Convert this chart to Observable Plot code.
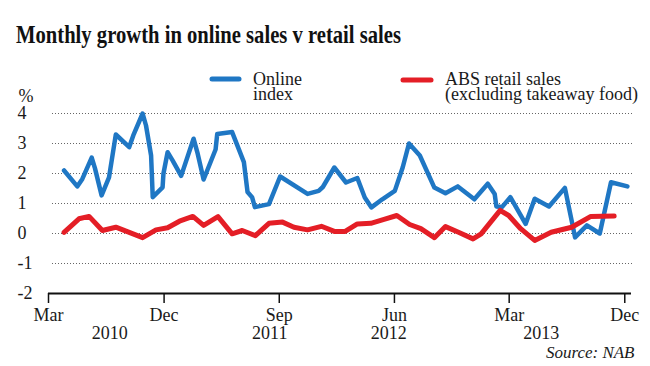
<!DOCTYPE html>
<html>
<head>
<meta charset="utf-8">
<script src="https://cdn.jsdelivr.net/npm/d3@7"></script>
<script src="https://cdn.jsdelivr.net/npm/@observablehq/plot@0.6"></script>
<style>
  html, body { margin: 0; padding: 0; background: #fff; }
  #wrap { position: relative; width: 650px; height: 366px; overflow: hidden; background: #fff; }
  #wrap svg { position: absolute; left: 0; top: 0; }
  #overlay { pointer-events: none; }
</style>
</head>
<body>
<div id="wrap"></div>
<script>
// ---- Data (time = months since 1 March 2010) ----
const onlineMonths = [1.20, 2.24, 2.63, 3.36, 3.62, 4.14, 4.71, 5.23, 6.27, 6.59, 7.32, 7.58, 7.97, 8.10,
  8.88, 8.95, 9.27, 9.66, 10.31, 11.29, 11.64, 12.13, 13.05, 13.18, 14.35, 15.26, 15.55, 15.91, 16.13,
  17.21, 18.07, 20.21, 21.09, 21.41, 22.29, 23.20, 24.12, 24.69, 25.21, 26.07, 27.03, 27.66, 28.15,
  28.98, 30.10, 30.98, 31.93, 33.23, 34.26, 34.79, 34.92, 35.39, 36.09, 37.27, 37.99, 39.09, 40.34,
  40.91, 41.12, 42.03, 43.05, 43.91, 45.20];
const onlineValues = [2.1, 1.57, 1.82, 2.53, 2.17, 1.27, 1.87, 3.3, 2.88, 3.27, 4.0, 3.6, 2.6, 1.21,
  1.54, 2.0, 2.71, 2.43, 1.92, 3.16, 2.66, 1.8, 2.8, 3.32, 3.38, 2.38, 1.38, 1.21, 0.88,
  0.98, 1.9, 1.32, 1.42, 1.55, 2.2, 1.7, 1.85, 1.2, 0.87, 1.14, 1.42, 2.21, 3.0,
  2.6, 1.53, 1.34, 1.57, 1.14, 1.66, 1.32, 0.9, 0.88, 1.21, 0.32, 1.16, 0.9, 1.52,
  0.32, -0.13, 0.27, 0.0, 1.71, 1.57];

const retailMonths = [1.20, 2.37, 3.15, 4.20, 5.23, 7.32, 8.36, 9.27, 10.18, 11.23, 12.13, 13.24, 14.35,
  15.13, 16.17, 17.21, 18.26, 19.16, 20.21, 21.30, 22.29, 23.13, 24.12, 25.16, 26.20, 27.19, 28.20,
  29.06, 30.10, 30.98, 31.98, 33.13, 33.75, 35.23, 35.96, 36.88, 37.99, 39.26, 40.86, 42.34, 44.16];
const retailValues = [0.04, 0.49, 0.57, 0.1, 0.21, -0.14, 0.12, 0.19, 0.41, 0.57, 0.27, 0.56, -0.01,
  0.1, -0.07, 0.34, 0.38, 0.21, 0.12, 0.24, 0.07, 0.07, 0.32, 0.34, 0.47, 0.6, 0.3,
  0.16, -0.14, 0.23, 0.04, -0.18, -0.01, 0.77, 0.6, 0.16, -0.23, 0.04, 0.21, 0.57, 0.58];

const yTicks = [4, 3, 2, 1, 0, -1, -2];
const gridValues = [4, 3, 2, 1, 0, -1];
const xTickMonths = ["2010-03", "2010-12", "2011-09", "2012-06", "2013-03", "2013-12"];
const yearLabels = ["2010", "2011", "2012", "2013"];
const yearLabelMonths = [4.77, 17.27, 26.56, 38.5];

const seriesNames = ["Online index", "ABS retail sales (excluding takeaway food)"];
const title = "Monthly growth in online sales v retail sales";
const source = "Source: NAB";

const BLUE = "#1f77c4";
const RED = "#e41e26";

// ---- helpers ----
const base = new Date(2010, 2, 1);
function monthDate(m) {
  const f = Math.floor(m);
  const a = d3.timeMonth.offset(base, f);
  const b = d3.timeMonth.offset(a, 1);
  return new Date(+a + (m - f) * (b - a));
}
const parseYM = d3.timeParse("%Y-%m");

const online = onlineMonths.map((m, i) => ({date: monthDate(m), value: onlineValues[i], series: seriesNames[0]}));
const retail = retailMonths.map((m, i) => ({date: monthDate(m), value: retailValues[i], series: seriesNames[1]}));
const years = yearLabels.map((t, i) => ({date: monthDate(yearLabelMonths[i]), text: t}));

const FONT = "'Liberation Serif', 'DejaVu Serif', serif";

const chart = Plot.plot({
  width: 650,
  height: 366,
  marginLeft: 48,
  marginRight: 19,
  marginTop: 113,
  marginBottom: 73,
  style: {fontFamily: FONT, fontSize: "18px", color: "#1a1a1a", background: "transparent"},
  x: {type: "time", domain: [new Date(2010, 2, 1), new Date(2013, 11, 17)]},
  y: {domain: [-2, 4], axis: null},
  marks: [
    Plot.ruleY(gridValues, {stroke: "#666", strokeWidth: 1, strokeDasharray: "1,2", insetLeft: 4, insetRight: -1}),
    Plot.ruleY([-2], {stroke: "#111", strokeWidth: 2}),
    Plot.axisX({
      ticks: xTickMonths.map(parseYM),
      tickFormat: d3.timeFormat("%b"),
      tickSize: 10,
      tickPadding: 5,
      strokeWidth: 1.5,
      stroke: "#111",
      fontSize: 18,
      label: null
    }),
    Plot.text(yTicks, {y: d => d, text: d => String(d), frameAnchor: "left", textAnchor: "start", lineAnchor: "middle", dx: -31, fontSize: 18, fill: "#1a1a1a"}),
    Plot.text(["%"], {frameAnchor: "top-left", textAnchor: "start", lineAnchor: "middle", dx: -30, dy: -17, fontSize: 18, fill: "#1a1a1a"}),
    Plot.text(years, {x: "date", text: "text", frameAnchor: "bottom", lineAnchor: "middle", dy: 40, fontSize: 18, fill: "#1a1a1a"}),
    Plot.text([source], {frameAnchor: "bottom-right", textAnchor: "end", lineAnchor: "middle", dx: 3, dy: 59, fontSize: 17, fontStyle: "italic", fill: "#1a1a1a"}),
    Plot.line(online, {x: "date", y: "value", stroke: BLUE, strokeWidth: 4.5, strokeLinejoin: "round", strokeLinecap: "round"}),
    Plot.line(retail, {x: "date", y: "value", stroke: RED, strokeWidth: 5, strokeLinejoin: "round", strokeLinecap: "round"})
  ]
});

const wrap = document.getElementById("wrap");
wrap.appendChild(chart);

// Title and legend overlay
const ns = "http://www.w3.org/2000/svg";
const ov = document.createElementNS(ns, "svg");
ov.setAttribute("id", "overlay");
ov.setAttribute("width", 650);
ov.setAttribute("height", 366);
ov.setAttribute("font-family", FONT);
function txt(x, y, s, attrs) {
  const t = document.createElementNS(ns, "text");
  t.setAttribute("x", x); t.setAttribute("y", y);
  t.setAttribute("fill", "#1a1a1a");
  for (const k in attrs) t.setAttribute(k, attrs[k]);
  t.textContent = s;
  ov.appendChild(t);
}
function swatch(x1, x2, y, color) {
  const l = document.createElementNS(ns, "line");
  l.setAttribute("x1", x1); l.setAttribute("x2", x2);
  l.setAttribute("y1", y); l.setAttribute("y2", y);
  l.setAttribute("stroke", color); l.setAttribute("stroke-width", 5);
  l.setAttribute("stroke-linecap", "round");
  ov.appendChild(l);
}
txt(16, 43, title, {"font-size": 25, "font-weight": "bold", "textLength": 385, "lengthAdjust": "spacingAndGlyphs", "fill": "#111"});
swatch(212, 239, 79, BLUE);
txt(253, 85, "Online", {"font-size": 18});
txt(253, 100, "index", {"font-size": 18});
swatch(403, 431, 80, RED);
txt(445, 85, "ABS retail sales", {"font-size": 18});
txt(445, 100, "(excluding takeaway food)", {"font-size": 18});
wrap.appendChild(ov);
</script>
</body>
</html>
